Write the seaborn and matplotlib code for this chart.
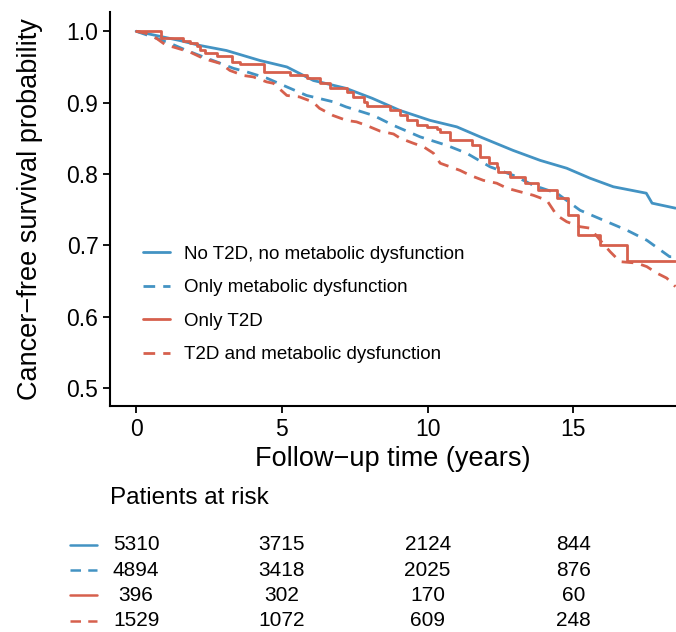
import numpy as np
import pandas as pd
import seaborn as sns
import matplotlib.pyplot as plt

# group labels, colours (as in the reference)
groups = ["No T2D, no metabolic dysfunction", "Only metabolic dysfunction",
          "Only T2D", "T2D and metabolic dysfunction"]
blue = "#4393c3"
red = "#d6604d"

# survival curves (time in years, survival probability)
t_none = [0, 1.5, 2.2, 3.1, 4.25, 5.17, 6.08, 7.2, 8.1, 9.05, 10.09, 11.0, 11.8,
          12.93, 13.86, 14.77, 15.57, 16.37, 17.5, 17.7, 18.5]
s_none = [1.0, 0.987, 0.980, 0.973, 0.959, 0.950, 0.931, 0.920, 0.906, 0.889, 0.875,
          0.866, 0.852, 0.833, 0.819, 0.808, 0.794, 0.782, 0.773, 0.759, 0.752]

t_meta = [0, 0.71, 1.17, 1.74, 2.31, 2.77, 3.34, 3.8, 4.5, 5.17, 5.85, 6.77, 7.2,
          8.14, 8.83, 9.4, 9.74, 10.66, 11.34, 12.14, 12.94, 13.63, 14.43, 15.23,
          16.15, 16.84, 17.52, 18.3, 18.5]
s_meta = [1.0, 0.990, 0.983, 0.973, 0.964, 0.957, 0.948, 0.943, 0.934, 0.922, 0.910,
          0.901, 0.894, 0.882, 0.868, 0.858, 0.852, 0.840, 0.829, 0.810, 0.798, 0.784,
          0.773, 0.749, 0.733, 0.721, 0.707, 0.684, 0.684]

t_t2d = [0, 0.85, 1.6, 1.85, 2.08, 2.2, 2.37, 2.77, 3.28, 3.57, 4.37, 5.28, 5.85,
         6.31, 6.64, 7.22, 7.45, 7.8, 7.91, 8.71, 9.06, 9.29, 9.63, 9.97, 10.32,
         10.43, 10.77, 11.52, 11.8, 12.09, 12.37, 12.43, 12.83, 13.34, 13.8, 14.43,
         14.83, 15.17, 15.92, 16.83, 18.5]
s_t2d = [1.0, 0.991, 0.986, 0.983, 0.979, 0.974, 0.969, 0.965, 0.957, 0.954, 0.943,
         0.938, 0.934, 0.928, 0.921, 0.915, 0.908, 0.901, 0.895, 0.889, 0.882, 0.875,
         0.868, 0.866, 0.863, 0.859, 0.847, 0.840, 0.824, 0.815, 0.810, 0.803, 0.796,
         0.787, 0.777, 0.766, 0.742, 0.714, 0.700, 0.678, 0.678]

t_both = [0, 0.35, 0.7, 1.04, 1.27, 1.84, 2.2, 2.54, 2.88, 3.22, 3.68, 4.02, 4.48,
          4.71, 5.17, 5.6, 6.06, 6.29, 6.75, 7.22, 7.56, 7.9, 8.37, 8.83, 9.06,
          9.51, 9.86, 10.2, 10.43, 10.77, 11.11, 11.46, 11.91, 12.37, 12.72, 13.17,
          13.63, 14.09, 14.43, 14.77, 15.23, 15.57, 15.92, 16.26, 16.6, 17.18, 17.52,
          17.86, 18.2, 18.5]
s_both = [1.0, 0.997, 0.990, 0.980, 0.978, 0.971, 0.964, 0.959, 0.955, 0.945, 0.938,
          0.936, 0.929, 0.927, 0.910, 0.908, 0.901, 0.892, 0.882, 0.875, 0.873, 0.868,
          0.860, 0.856, 0.850, 0.843, 0.838, 0.829, 0.815, 0.810, 0.805, 0.798, 0.791,
          0.787, 0.780, 0.775, 0.770, 0.763, 0.742, 0.733, 0.726, 0.724, 0.707, 0.691,
          0.677, 0.675, 0.670, 0.661, 0.654, 0.642]

# patients at risk table
risk_times = [0, 5, 10, 15]
risk_none = [5310, 3715, 2124, 844]
risk_meta = [4894, 3418, 2025, 876]
risk_t2d = [396, 302, 170, 60]
risk_both = [1529, 1072, 609, 248]

sns.set_theme(style="ticks")
plt.rcParams["font.family"] = ["Liberation Sans", "DejaVu Sans"]
plt.rcParams["axes.unicode_minus"] = True
for k in ["text.color", "axes.labelcolor", "xtick.color", "ytick.color"]:
    plt.rcParams[k] = "black"

fig = plt.figure(figsize=(6.76, 6.32), dpi=100)
ax = fig.add_axes([0.163, 0.358, 0.837, 0.623])

dash = (0, (4.2, 2.9))
curves = [
    (t_none, s_none, blue, "-", "default"),
    (t_meta, s_meta, blue, dash, "default"),
    (t_t2d, s_t2d, red, "-", "steps-post"),
    (t_both, s_both, red, dash, "default"),
]
for name, (t, s, col, ls, ds) in zip(groups, curves):
    df = pd.DataFrame({"time": t, "surv": s})
    sns.lineplot(data=df, x="time", y="surv", ax=ax, color=col, linestyle=ls,
                 drawstyle=ds, linewidth=2.0, estimator=None, sort=False, label=name)

ax.set_xlim(-0.89, 18.52)
ax.set_ylim(0.475, 1.027)
ax.set_xticks([0, 5, 10, 15])
ax.set_yticks([0.5, 0.6, 0.7, 0.8, 0.9, 1.0])
ax.set_yticklabels(["0.5", "0.6", "0.7", "0.8", "0.9", "1.0"])
ax.tick_params(labelsize=16.5, length=5, width=1.3, color="black", labelcolor="black")
ax.set_xlabel("Follow\u2212up time (years)", fontsize=19.5, labelpad=4)
ax.set_ylabel("Cancer\u2212free survival probability", fontsize=19.5, labelpad=17)
for sp in ["left", "bottom"]:
    ax.spines[sp].set_linewidth(1.5)
    ax.spines[sp].set_color("black")
sns.despine(ax=ax)

ax.legend(loc="upper left", bbox_to_anchor=(0.058, 0.407), frameon=False,
          fontsize=13.5, handlelength=1.45, handletextpad=0.75, labelspacing=0.88,
          borderpad=0, borderaxespad=0)

# risk table
tab = fig.add_axes([0.163, 0.0, 0.837, 0.24])
tab.set_xlim(ax.get_xlim())
tab.set_ylim(3.45, -2.55)
tab.axis("off")
tab.text(-0.89, -1.85, "Patients at risk", fontsize=17.5, ha="left", va="center")
rows = [risk_none, risk_meta, risk_t2d, risk_both]
for i, (vals, (_, _, col, ls, _)) in enumerate(zip(rows, curves)):
    tab.plot([-2.26, -1.34], [i, i], color=col, linestyle=ls,
             linewidth=1.8, clip_on=False)
    for x, v in zip(risk_times, vals):
        tab.text(x, i, str(v), fontsize=15, ha="center", va="center")

fig.savefig("out.png", dpi=100)
